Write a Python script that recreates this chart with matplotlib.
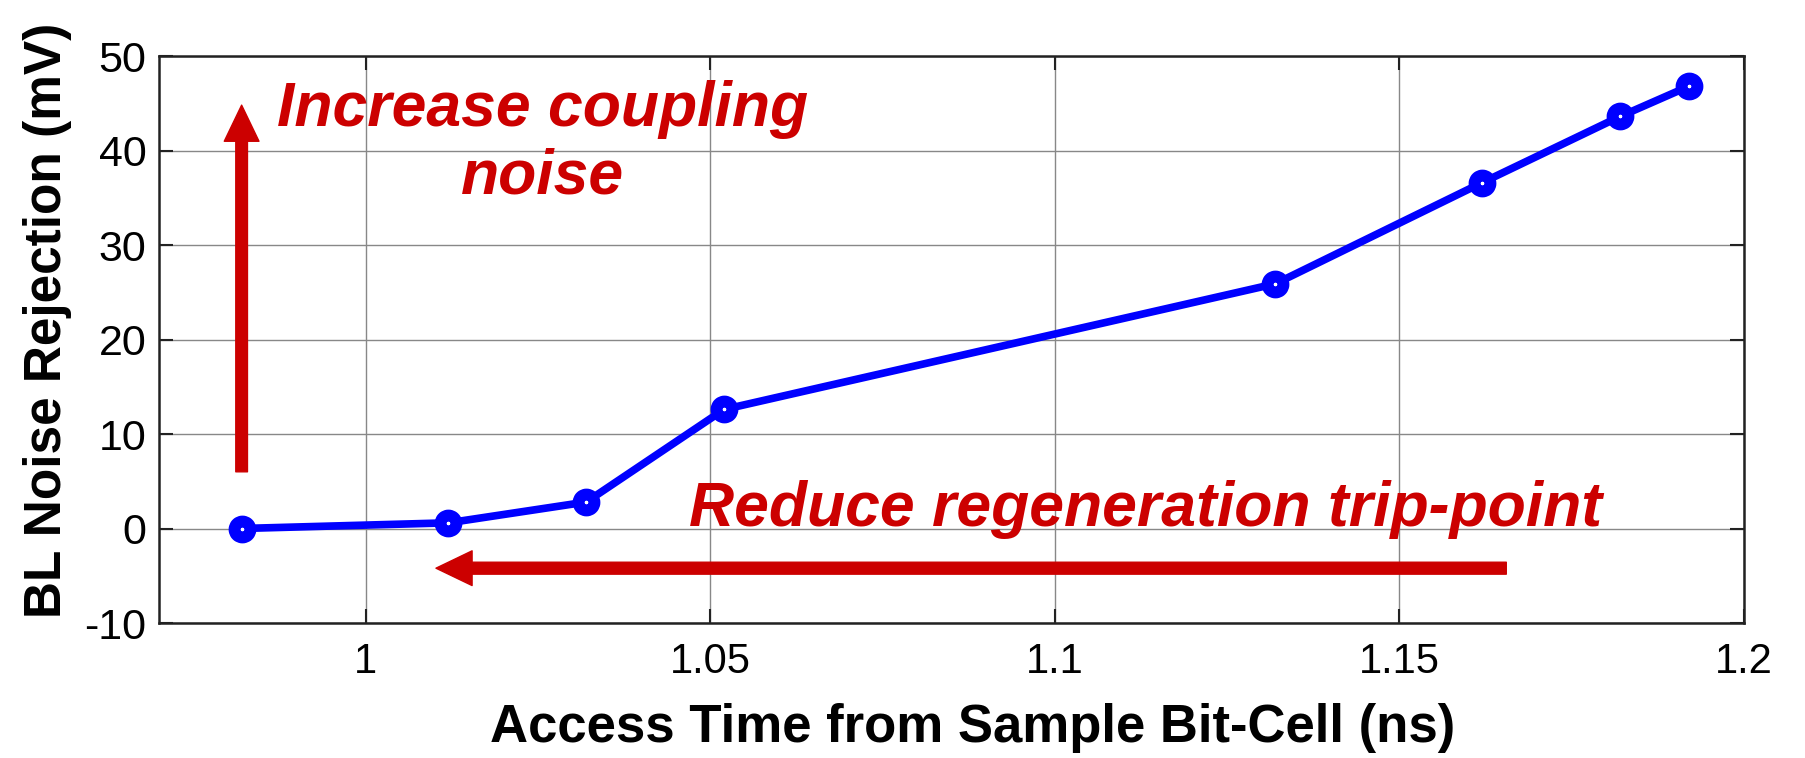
import numpy as np
import matplotlib
matplotlib.use("Agg")
import matplotlib.pyplot as plt
from matplotlib.patches import FancyArrowPatch

plt.rcParams['font.family'] = ['Liberation Sans', 'DejaVu Sans']
plt.rcParams['axes.unicode_minus'] = False

# access time (ns) vs. bit-line noise rejection (mV)
access_time = [0.982, 1.012, 1.032, 1.052, 1.132, 1.162, 1.182, 1.192]
noise_rejection = [0.0, 0.6, 2.8, 12.6, 25.9, 36.6, 43.6, 46.8]

x_ticks = [1, 1.05, 1.1, 1.15, 1.2]
x_ticklabels = ["1", "1.05", "1.1", "1.15", "1.2"]
y_ticks = [-10, 0, 10, 20, 30, 40, 50]

red = "#CC0000"

fig = plt.figure(figsize=(18.06, 7.58), dpi=100)
ax = fig.add_axes([0.0880, 0.1781, 0.8777, 0.7480])

ax.plot(access_time, noise_rejection, color="#0000FF", lw=5.5,
        marker="o", ms=11.5, mew=8.5, mfc="white", mec="#0000FF", zorder=5)

ax.set_xlim(0.97, 1.2)
ax.set_ylim(-10, 50)
ax.set_xticks(x_ticks)
ax.set_xticklabels(x_ticklabels)
ax.set_yticks(y_ticks)
ax.grid(True, color="#888888", lw=1.0)
ax.set_axisbelow(True)

ax.tick_params(axis="both", direction="in", length=10, width=1.5,
               top=True, right=True, labelsize=30, color="#222222")
ax.tick_params(axis="x", pad=14)
ax.tick_params(axis="y", pad=9, labelsize=31)
for s in ax.spines.values():
    s.set_linewidth(1.8)
    s.set_color("#222222")

ax.set_xlabel("Access Time from Sample Bit-Cell (ns)", fontsize=38, fontweight="bold")
ax.xaxis.label.set_va("center")
ax.xaxis.set_label_coords(0.5136, -0.1855)
ax.set_ylabel("BL Noise Rejection (mV)", fontsize=37, fontweight="bold")
ax.yaxis.label.set_va("center")
ax.yaxis.set_label_coords(-0.070, 0.534)

# direction arrows
up = FancyArrowPatch((0.982, 6.0), (0.982, 44.8), arrowstyle="simple,head_length=26,head_width=25,tail_width=8.4",
                     mutation_scale=1, color=red, shrinkA=0, shrinkB=0, zorder=4)
left = FancyArrowPatch((1.1655, -4.2), (1.0102, -4.2), arrowstyle="simple,head_length=26,head_width=25,tail_width=8.6",
                       mutation_scale=1, color=red, shrinkA=0, shrinkB=0, zorder=4)
ax.add_patch(up)
ax.add_patch(left)

ax.text(1.0257, 35.4, "Increase coupling\nnoise", color=red, fontsize=45,
        fontweight="bold", fontstyle="italic", ha="center", va="baseline",
        linespacing=1.2, zorder=6)
ax.text(1.1132, 0.3, "Reduce regeneration trip-point", color=red, fontsize=45,
        fontweight="bold", fontstyle="italic", ha="center", va="baseline", zorder=6)

fig.savefig("out.png", dpi=100)
